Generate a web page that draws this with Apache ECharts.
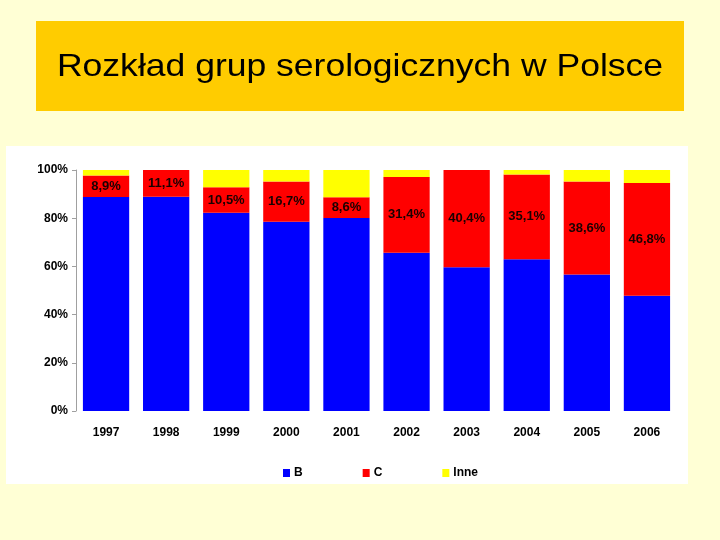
<!DOCTYPE html>
<html><head><meta charset="utf-8">
<script src="https://cdn.jsdelivr.net/npm/echarts@6/dist/echarts.min.js"></script>
<style>html,body{margin:0;padding:0;background:#FFFFD5;}#c{width:720px;height:540px;}</style>
</head><body><div id="c"></div>
<script>
const years = ['1997','1998','1999','2000','2001','2002','2003','2004','2005','2006'];
const valuesB = [88.8, 88.9, 82.3, 78.5, 80.1, 65.7, 59.6, 63.0, 56.6, 47.8];
const valuesC = [8.9, 11.1, 10.5, 16.7, 8.6, 31.4, 40.4, 35.1, 38.6, 46.8];
const valuesInne = [2.3, 0, 7.2, 4.8, 11.3, 2.9, 0, 1.9, 4.8, 5.4];
const yTicks = [0, 20, 40, 60, 80, 100];
const titleText = 'Rozkład grup serologicznych w Polsce';

const chart = echarts.init(document.getElementById('c'));
const font = 'Liberation Sans, Arial, sans-serif';
chart.setOption({
  backgroundColor: '#FFFFD5',
  animation: false,
  graphic: [
    {type:'rect', z:-10, silent:true, shape:{x:36,y:21,width:648,height:90}, style:{fill:'#FFCC00'}},
    {type:'rect', z:-10, silent:true, shape:{x:6,y:146,width:682,height:338}, style:{fill:'#FFFFFF'}},
    {type:'text', z:10, silent:true, x:360, y:67, scaleX:1.11,
      style:{text:titleText, fontFamily:font, fontSize:32, fill:'#000', align:'center', verticalAlign:'middle'}}
  ],
  legend: {
    left: 278, top: 462,
    itemWidth: 7, itemHeight: 8, itemGap: 60,
    icon: 'rect',
    textStyle: {fontFamily: font, fontSize: 12, fontWeight: 'bold', color: '#000', padding:[0,0,0,-1]},
    data: ['B','C','Inne']
  },
  grid: {left: 76, right: 43, top: 170, bottom: 129},
  xAxis: {
    type: 'category', data: years,
    axisLine: {show: false}, axisTick: {show: false},
    axisLabel: {fontFamily: font, fontSize: 12, fontWeight: 'bold', color: '#000', margin: 16}
  },
  yAxis: {
    type: 'value', min: 0, max: 100, interval: 20,
    axisLine: {show: true, lineStyle: {color: '#A0A0A0'}},
    axisTick: {show: true, length: 4, lineStyle: {color: '#A0A0A0'}},
    splitLine: {show: false},
    axisLabel: {fontFamily: font, fontSize: 12, fontWeight: 'bold', color: '#000', margin: 8,
      formatter: v => yTicks.includes(v) ? v + '%' : ''}
  },
  series: [
    {name:'B', type:'bar', stack:'t', data: valuesB, barCategoryGap:'23%', itemStyle:{color:'#0000FF'}},
    {name:'C', type:'bar', stack:'t', data: valuesC, itemStyle:{color:'#FF0000'},
      label:{show:true, position:'inside', fontFamily: font, fontSize: 13, fontWeight:'bold', color:'#1a0000',
        formatter: p => p.value.toFixed(1).replace('.', ',') + '%'}},
    {name:'Inne', type:'bar', stack:'t', data: valuesInne, itemStyle:{color:'#FFFF00'}}
  ]
});
</script></body></html>
